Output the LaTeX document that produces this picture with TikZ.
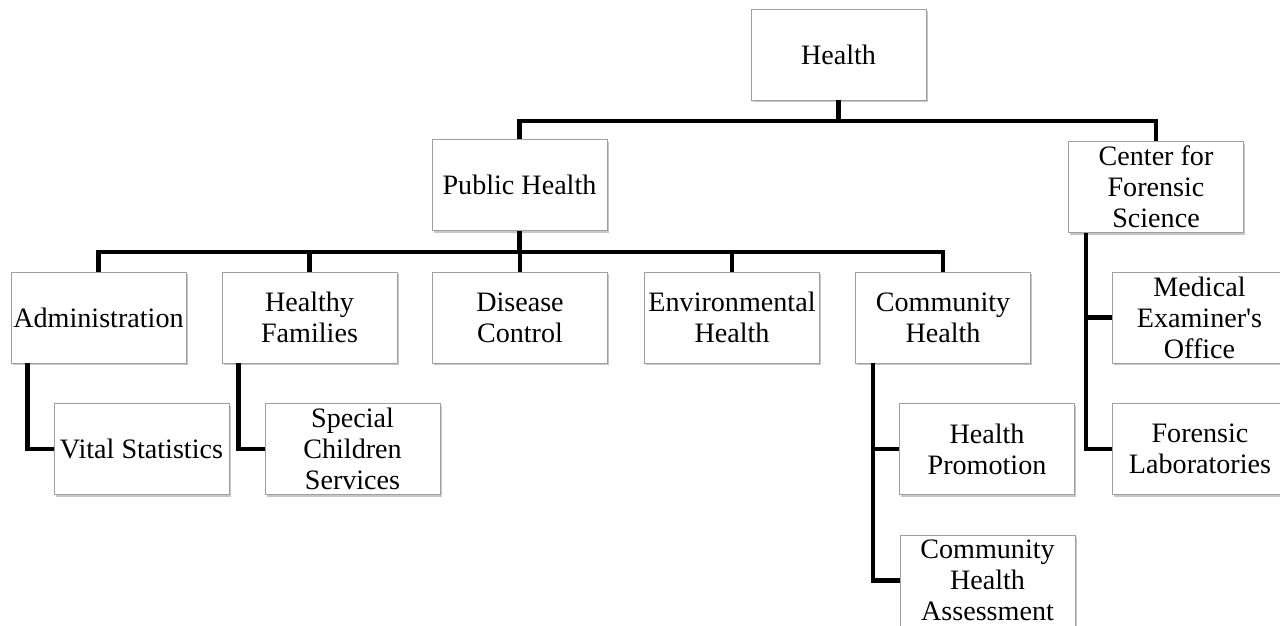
\documentclass[tikz,border=0pt]{standalone}
\usepackage{fontspec}
\setmainfont{Liberation Serif}[Ligatures=TeXOff]
\usepackage{tikz}
\usetikzlibrary{shadows, positioning}
\usetikzlibrary{calc}

\begin{document}
\begin{tikzpicture}[x=0.02cm, y=-0.02cm]
			% Define style
			\tikzset{
				unit/.style={rectangle, minimum width=3.5cm, minimum height=1.82cm, inner sep=1pt, align=center, text centered, draw=gray!75, line width=0.5pt, fill=white, font=\fontsize{16}{17.6}\selectfont, drop shadow={shadow xshift=1pt, shadow yshift=-1.3pt, opacity=0.45}},
				link/.style={line width=2.4pt, line join=miter}
			}
			\useasboundingbox (0,0) rectangle (1280,625);
			\clip (0,0) rectangle (1280,625);
			
			% Define blocks
			\node (health) [unit] at (838.5,54.5) {Health};
			\node (public) [unit] at (519.5,185) {Public Health};
			\node (forensic) [unit] at (1156,187) {Center for\\Forensic\\Science};
			\node (admin) [unit] at (98.5,317.5) {Administration};
			\node (families) [unit] at (309.5,317.5) {Healthy\\Families};
			\node (disease) [unit] at (520,317.5) {Disease\\Control};
			\node (environ) [unit] at (732,317.5) {Environmental\\Health};
			\node (community) [unit] at (943,317.5) {Community\\Health};
			\node (vital) [unit] at (141.5,449) {Vital Statistics};
			\node (special) [unit] at (352.5,449) {Special\\Children\\Services};
			\node (promotion) [unit] at (987,449) {Health\\Promotion};
			\node (assessment) [unit] at (987.5,580.5) {Community\\Health\\Assessment};
			\node (examiner) [unit] at (1199.5,317.5) {Medical\\Examiner's\\Office};
			\node (labs) [unit] at (1200,449) {Forensic\\Laboratories};
			
			% Define connectors
			\coordinate (hbus) at (838.5,121);
			\coordinate (pbus) at (519.5,252);
			\draw [link] (health.south) -- (hbus) -| (public.north);
			\draw [link] (hbus) -| (forensic.north);
			\draw [link] (public.south) -- (pbus);
			\foreach \n in {admin, families, disease, environ, community}
				\draw [link] (pbus) -| (\n.north);
			\draw [link] ([xshift=0.34cm]admin.south west) |- (vital.west);
			\draw [link] ([xshift=0.34cm]families.south west) |- (special.west);
			\draw [link] ([xshift=0.36cm]community.south west) |- (promotion.west);
			\draw [link] ([xshift=0.36cm]community.south west) |- (assessment.west);
			\draw [link] ([xshift=0.36cm]forensic.south west) |- (examiner.west);
			\draw [link] ([xshift=0.36cm]forensic.south west) |- (labs.west);
		\end{tikzpicture}
\end{document}
